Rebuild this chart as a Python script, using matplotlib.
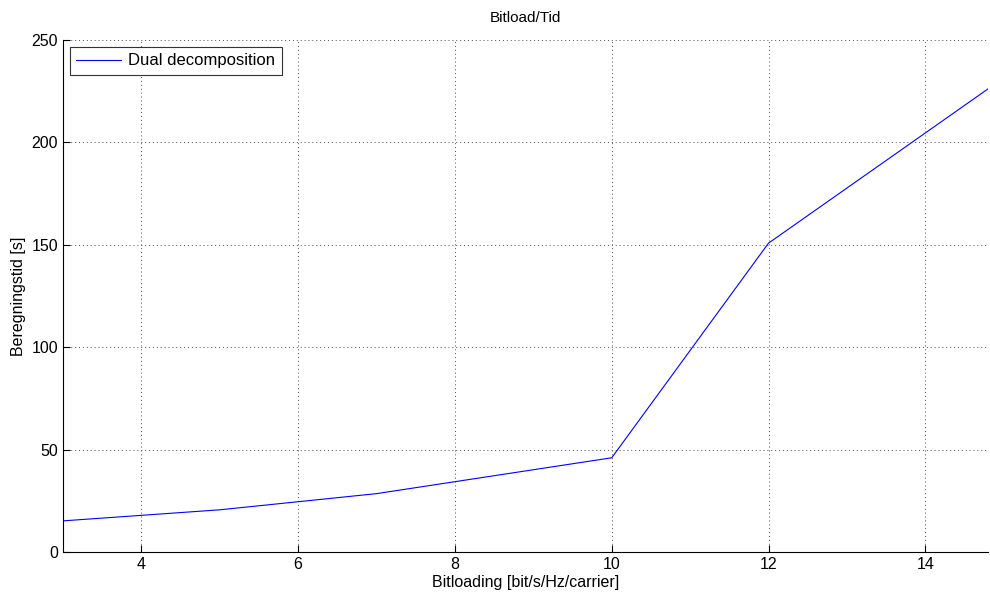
import matplotlib
matplotlib.use("Agg")
import matplotlib.pyplot as plt

# data
bitload = [3, 5, 7, 10, 12, 15]
beregningstid = [15.2, 20.6, 28.5, 46.0, 150.8, 231.5]

x_ticks = [4, 6, 8, 10, 12, 14]
y_ticks = [0, 50, 100, 150, 200, 250]

plt.rcParams['font.family'] = ['Liberation Sans', 'DejaVu Sans']

fig = plt.figure(figsize=(9.9, 5.94), dpi=100)
ax = fig.add_axes([63 / 990, 1 - 552 / 594, (988 - 63) / 990, (552 - 40) / 594])

ax.plot(bitload, beregningstid, color='blue', linewidth=0.8, label='Dual decomposition')

ax.set_xlim(3, 14.8)
ax.set_ylim(0, 250)
ax.set_xticks(x_ticks)
ax.set_yticks(y_ticks)
ax.tick_params(direction='in', length=5, labelsize=11.5, width=0.8)
ax.grid(True, linestyle=(0, (1, 3)), color='0.3', linewidth=0.7)
ax.spines['top'].set_visible(False)
ax.spines['right'].set_visible(False)

ax.set_title('Bitload/Tid', fontsize=11, pad=13)
ax.set_xlabel('Bitloading [bit/s/Hz/carrier]', fontsize=11.5, labelpad=2)
ax.set_ylabel('Beregningstid [s]', fontsize=11.5, labelpad=4)

leg = ax.legend(loc='upper left', fontsize=12, fancybox=False, framealpha=1,
                edgecolor='0.2', handlelength=2.7, borderaxespad=0.4,
                borderpad=0.4, handletextpad=0.4)
leg.get_frame().set_linewidth(0.8)

fig.savefig('out.png', dpi=100)
